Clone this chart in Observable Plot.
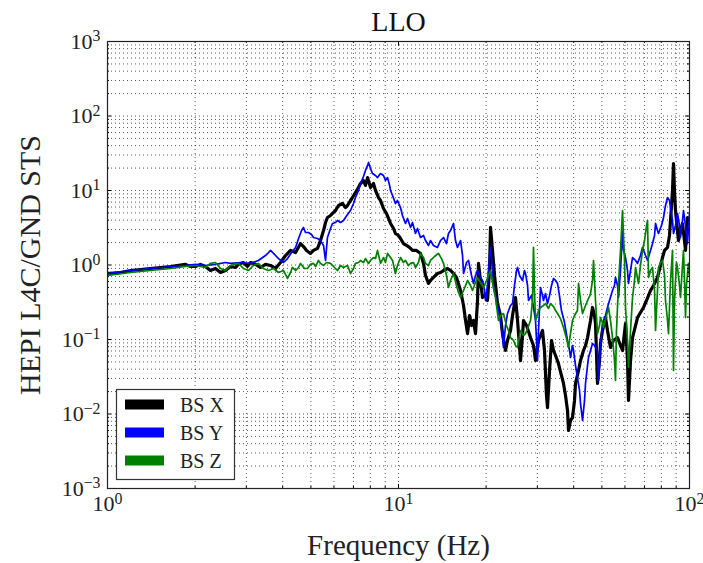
<!DOCTYPE html>
<html><head><meta charset="utf-8">
<script src="https://cdn.jsdelivr.net/npm/d3@7"></script>
<script src="https://cdn.jsdelivr.net/npm/@observablehq/plot@0.6"></script>
<style>body{margin:0;background:#fff;} #chart svg, #chart svg text{font-family:'Liberation Serif',serif !important;}</style>
</head><body><div id="chart"></div>
<script>
// ---- data (frequency in Hz, ratio) ----
const freqX = [1.00,1.108,1.20,1.30,1.405,1.52,1.646,1.854,1.929,2.006,2.087,2.17,2.258,2.35,2.445,2.544,2.647,2.754,2.818,2.932,3.026,3.10,3.225,3.356,3.49,3.633,3.78,3.93,4.09,4.255,4.43,4.606,4.716,4.829,4.984,5.104,5.27,5.395,5.525,5.613,5.70,5.84,5.98,6.075,6.22,6.42,6.574,6.68,6.84,6.95,7.115,7.29,7.40,7.58,7.70,7.83,8.01,8.205,8.336,8.54,8.675,8.88,9.093,9.39,9.615,9.76,9.994,10.16,10.40,10.65,10.91,11.17,11.53,11.90,12.19,12.38,12.68,12.88,13.19,13.61,13.94,14.28,14.74,15.09,15.45,15.82,16.34,16.73,17.0,17.27,17.55,17.82,18.1,18.39,18.69,18.83,19.13,19.44,19.91,20.22,20.55,20.71,21.04,21.38,21.89,22.41,22.77,23.13,23.32,23.69,24.26,24.65,25.24,25.65,26.26,26.68,26.89,27.54,28.42,29.1,29.57,30.27,31.25,31.75,32.25,32.51,33.04,33.56,34.1,34.65,35.45,36.3,36.9,37.49,38.09,38.39,39.0,39.63,40.26,40.58,41.56,42.22,43.23,43.92,44.63,45.7,46.42,47.16,47.53,48.29,49.06,49.45,50.23,51.44,52.26,53.52,54.81,56.57,57.93,58.86,60.28,61.23,61.72,62.71,63.71,65.24,66.29,67.85,69.51,71.19,73.45,75.22,77.62,79.49,80.77,82.07,84.03,85.36,86.05,87.43,88.1,88.8,89.5,90.94,91.66,93.13,94.6,96.1,96.9,97.6,98.4,100];
const valX = [0.769,0.793,0.844,0.871,0.898,0.926,0.955,1.02,0.955,0.955,1.02,0.955,0.844,0.898,0.793,0.844,0.955,0.926,1.02,1.08,0.955,1.08,1.02,0.926,1.02,0.985,0.898,1.08,1.34,1.57,1.47,1.94,1.77,1.57,1.43,1.57,1.67,2.13,2.90,3.72,4.34,4.62,5.07,5.39,6.29,6.69,5.91,6.29,7.34,8.05,9.40,11.0,12.4,13.6,11.7,14.9,11.0,12.4,10.0,8.05,7.34,5.73,4.91,3.61,3.09,2.65,2.49,2.27,1.94,1.83,1.72,1.57,1.57,1.43,1.05,0.723,0.565,0.620,0.680,0.769,0.793,0.844,0.898,0.844,0.769,0.680,0.455,0.286,0.180,0.120,0.210,0.154,0.180,0.120,0.334,1.05,0.620,0.366,0.390,0.334,0.844,3.19,1.57,0.723,0.304,0.210,0.120,0.0831,0.0712,0.0970,0.132,0.210,0.366,0.180,0.0522,0.113,0.180,0.154,0.106,0.0831,0.0522,0.0970,0.132,0.0712,0.0177,0.0122,0.0384,0.0970,0.0712,0.0610,0.0476,0.0329,0.0257,0.0177,0.0111,0.00601,0.00818,0.00897,0.0152,0.0257,0.0384,0.0522,0.0712,0.0831,0.106,0.180,0.269,0.210,0.164,0.0257,0.0522,0.0884,0.132,0.197,0.132,0.0781,0.0970,0.106,0.0831,0.0712,0.164,0.0522,0.0152,0.0522,0.106,0.154,0.197,0.230,0.269,0.334,0.455,0.531,0.680,0.985,1.26,1.57,1.72,2.49,3.96,10.0,23.0,10.0,5.39,2.90,2.13,2.90,3.61,2.13,1.57,2.49,4.34,3.96];

const freqY = [1.00,1.20,1.405,1.646,1.854,2.006,2.17,2.35,2.544,2.647,2.863,3.10,3.30,3.49,3.575,3.633,3.72,3.78,3.87,4.025,4.155,4.29,4.43,4.535,4.643,4.716,4.79,4.906,5.024,5.104,5.27,5.395,5.525,5.613,5.70,5.84,5.93,6.075,6.17,6.32,6.47,6.68,6.84,7.005,7.115,7.29,7.40,7.58,7.70,7.83,7.89,8.01,8.14,8.336,8.47,8.675,8.88,9.02,9.17,9.32,9.39,9.54,9.76,9.92,10.16,10.32,10.57,10.74,11.0,11.17,11.44,11.62,11.90,12.19,12.38,12.68,12.88,13.19,13.61,13.94,14.28,14.62,14.85,15.09,15.45,15.70,15.95,16.34,16.6,16.73,17.13,17.40,17.82,18.1,18.39,18.69,19.13,19.44,19.75,19.91,20.22,20.55,20.71,21.04,21.21,21.72,22.06,22.41,22.77,22.95,23.32,23.69,24.26,24.65,25.04,25.45,25.65,26.06,26.68,27.1,27.32,27.76,27.98,28.65,29.1,29.57,30.05,30.29,30.76,31.25,31.5,32.0,32.51,33.04,33.56,34.1,34.65,35.2,35.73,36.3,37.2,38.09,38.7,39.0,39.63,39.94,40.58,41.2,41.89,42.22,42.9,43.58,43.92,44.63,44.98,45.7,46.42,47.16,48.29,48.67,49.45,50.23,51.44,52.26,53.1,54.37,55.24,55.68,56.57,57.02,57.93,58.86,59.33,60.28,61.23,61.72,62.71,63.71,65.24,66.29,67.85,68.96,70.62,71.75,73.45,74.64,75.83,76.43,77.62,78.25,80.12,81.42,82.71,84.03,85.36,86.05,87.43,88.1,89.5,90.94,92.4,93.13,94.6,95.37,96.9,98.4,100];
const valY = [0.769,0.844,0.898,0.955,0.985,1.02,0.985,1.02,1.08,1.05,1.08,1.05,1.15,1.34,1.47,1.57,1.43,1.34,1.22,1.08,1.22,1.47,1.72,2.27,2.90,3.19,2.73,2.73,2.57,2.34,2.27,2.13,1.83,1.15,2.34,3.09,3.61,3.72,3.96,3.72,3.96,4.76,5.39,6.69,8.05,10.0,12.4,15.4,18.6,21.7,23.8,19.7,16.9,15.9,14.9,16.9,15.9,13.6,14.9,11.7,10.0,8.57,6.69,7.34,5.91,4.62,3.61,4.21,3.19,3.72,2.65,3.09,2.34,2.49,2.13,1.83,2.13,1.83,1.72,2.13,2.34,1.94,2.65,2.90,3.61,2.13,1.72,2.13,1.34,0.769,1.08,1.15,0.723,0.565,0.723,0.844,0.680,0.620,0.455,0.334,0.531,1.34,1.72,0.844,0.499,0.334,0.245,0.180,0.113,0.0781,0.154,0.223,0.286,0.304,0.531,0.844,0.926,0.723,0.620,0.844,0.769,0.531,0.334,0.390,0.269,0.180,0.0522,0.132,0.499,0.390,0.334,0.414,0.304,0.390,0.531,0.659,0.620,0.565,0.390,0.245,0.169,0.0970,0.0712,0.0573,0.0831,0.0712,0.0448,0.0309,0.0207,0.0138,0.00818,0.0152,0.0257,0.0448,0.0573,0.0712,0.0884,0.0831,0.0712,0.0282,0.0831,0.164,0.210,0.269,0.334,0.455,0.531,0.680,0.531,0.366,0.844,2.90,1.57,1.26,0.844,0.565,0.844,1.26,1.15,1.05,1.34,1.72,1.34,1.15,1.57,1.94,2.49,3.61,2.90,2.65,3.39,4.34,6.29,8.05,7.34,5.91,3.96,2.65,3.39,4.91,3.39,2.34,3.96,5.39,3.39,1.94,4.91];

const freqZ = [1.00,1.20,1.405,1.646,1.854,2.006,2.17,2.258,2.35,2.445,2.544,2.647,2.818,2.932,3.05,3.17,3.30,3.43,3.575,3.72,3.87,4.025,4.155,4.255,4.32,4.43,4.535,4.606,4.75,4.867,4.984,5.104,5.19,5.31,5.395,5.525,5.656,5.84,5.98,6.17,6.32,6.47,6.68,6.84,7.005,7.115,7.29,7.40,7.58,7.70,7.89,8.01,8.205,8.336,8.47,8.675,8.88,9.02,9.17,9.39,9.54,9.76,9.92,10.16,10.40,10.57,10.82,11.0,11.26,11.44,11.71,11.90,12.19,12.38,12.68,12.88,13.3,13.72,14.05,14.28,14.62,14.85,15.09,15.45,15.82,16.08,16.34,16.73,17.0,17.27,17.68,17.96,18.39,18.69,19.13,19.59,20.07,20.38,20.71,21.04,21.54,22.06,22.41,22.95,23.5,23.88,24.26,24.85,25.24,25.65,26.06,26.26,26.89,27.32,27.76,28.42,28.88,29.1,29.33,29.57,30.29,30.76,31.5,32.0,32.77,33.3,34.1,34.65,35.2,36.02,36.9,37.79,38.39,39.0,39.63,40.26,41.2,41.56,42.22,42.9,43.92,44.63,45.34,45.7,46.42,46.79,47.53,48.29,49.06,49.45,50.23,50.63,51.85,52.67,53.52,54.37,55.24,55.68,56.12,57.02,57.93,58.86,59.8,60.28,61.23,61.72,62.71,63.71,64.73,65.24,66.29,66.81,67.85,68.96,70.06,71.19,71.75,72.32,73.45,74.64,75.83,76.43,77.62,78.25,79.49,80.77,82.07,82.71,84.03,84.69,86.05,87.43,88.1,88.8,90.22,90.94,92.4,93.13,94.6,95.37,96.1,96.9,97.6,99.2,100];
const valZ = [0.723,0.793,0.844,0.898,0.955,0.985,0.926,1.05,1.08,0.898,0.844,0.985,1.05,0.898,0.844,0.985,1.05,0.898,0.844,0.898,0.793,0.844,0.659,0.793,0.926,0.844,0.926,1.05,0.898,0.898,1.02,1.05,0.955,1.15,1.05,0.985,1.08,1.05,0.955,0.844,0.985,0.926,0.985,0.769,0.898,1.05,1.08,1.15,1.08,1.22,1.05,1.15,1.26,1.22,1.57,1.05,1.26,1.08,1.43,1.26,1.15,0.769,0.985,1.26,1.08,1.15,0.985,1.05,1.08,0.926,1.08,1.43,1.26,1.05,0.985,1.15,1.30,1.43,1.22,1.05,0.723,0.499,0.620,0.769,0.531,0.428,0.366,0.455,0.531,0.620,0.531,0.455,0.582,0.680,0.582,0.499,0.620,0.723,0.844,0.582,0.366,0.180,0.210,0.223,0.154,0.132,0.106,0.0970,0.0831,0.0781,0.113,0.132,0.113,0.120,0.140,0.180,0.334,1.72,0.455,0.180,0.245,0.269,0.286,0.304,0.261,0.304,0.277,0.245,0.223,0.191,0.145,0.103,0.0781,0.120,0.180,0.210,0.245,0.565,0.334,0.223,0.286,0.334,0.378,0.414,0.620,1.15,0.334,0.120,0.154,0.197,0.169,0.145,0.210,0.269,0.180,0.106,0.0522,0.0282,0.132,0.565,1.57,5.39,1.15,0.269,0.0970,0.0421,0.132,0.366,0.620,0.926,0.659,0.565,0.985,1.57,2.13,3.39,3.96,0.680,0.844,0.926,0.455,0.132,0.455,0.926,1.08,1.15,0.723,0.334,0.180,0.120,0.620,1.57,0.0384,0.334,1.08,0.926,0.531,0.366,0.985,1.57,0.620,0.197,0.531,1.05,0.723];

const seriesNames = ["BS X", "BS Y", "BS Z"];
const seriesColors = ["#000000", "#0000ff", "#008000"];
const seriesWidths = [3.2, 1.7, 1.7];

const xMajor = [1, 10, 100];
const yMajor = [1e-3, 1e-2, 1e-1, 1, 10, 100, 1000];
const titleText = "LLO";
const xLabel = "Frequency (Hz)";
const yLabel = "HEPI L4C/GND STS";

// ---- build ----
const seriesF = [freqX, freqY, freqZ];
const seriesV = [valX, valY, valZ];
const rows = seriesNames.map((s, i) => seriesF[i].map((f, j) => ({s, f, v: seriesV[i][j]})));

const mult = [2,3,4,5,6,7,8,9];
const xMinor = [1, 10].flatMap(d => mult.map(m => d * m));
const yMinor = [1e-3, 1e-2, 1e-1, 1, 10, 100].flatMap(d => mult.map(m => +(d * m).toPrecision(3)));
const xGrid = xMajor.concat(xMinor);
const yGrid = yMajor.concat(yMinor);

const W = 703, H = 563, mL = 107, mR = 14, mT = 41, mB = 75;
const fw = W - mL - mR, fh = H - mT - mB;
const fmt = d => "10^" + Math.round(Math.log10(d));
const grid = {stroke: "#000", strokeOpacity: 0.65, strokeDasharray: "1,3", strokeWidth: 1};
const FONT = "'Liberation Serif',serif";

const svg = Plot.plot({
  width: W, height: H,
  marginLeft: mL, marginRight: mR, marginTop: mT, marginBottom: mB,
  style: {fontSize: "22px", color: "#222", background: "#fff"},
  x: {type: "log", domain: [1, 100]},
  y: {type: "log", domain: [1e-3, 1e3]},
  marks: [
    Plot.ruleX(xGrid, {x: d => d, ...grid}),
    Plot.ruleY(yGrid, {y: d => d, ...grid}),
    ...rows.map((r, i) => Plot.line(r, {x: "f", y: "v", stroke: seriesColors[i], strokeWidth: seriesWidths[i], clip: true, strokeLinejoin: "round"})),
    Plot.tickX(xMajor, {x: d => d, insetTop: fh - 4, stroke: "#000"}),
    Plot.tickX(xMajor, {x: d => d, insetBottom: fh - 4, stroke: "#000"}),
    Plot.tickX(xMinor, {x: d => d, insetTop: fh - 2, stroke: "#000"}),
    Plot.tickX(xMinor, {x: d => d, insetBottom: fh - 2, stroke: "#000"}),
    Plot.tickY(yMajor, {y: d => d, insetRight: fw - 4, stroke: "#000"}),
    Plot.tickY(yMajor, {y: d => d, insetLeft: fw - 4, stroke: "#000"}),
    Plot.tickY(yMinor, {y: d => d, insetRight: fw - 2, stroke: "#000"}),
    Plot.tickY(yMinor, {y: d => d, insetLeft: fw - 2, stroke: "#000"}),
    Plot.frame({stroke: "#222", strokeWidth: 1.2}),
    Plot.axisX({ticks: xMajor, tickSize: 0, tickPadding: 7, tickFormat: fmt, label: null}),
    Plot.axisY({ticks: yMajor, tickSize: 0, tickPadding: 7, tickFormat: fmt, label: null}),
    Plot.text([titleText], {frameAnchor: "top", dy: -19, textAnchor: "middle", lineAnchor: "middle", fontSize: 28, fill: "#111"}),
    Plot.text([xLabel], {frameAnchor: "bottom", dy: 57, textAnchor: "middle", lineAnchor: "middle", fontSize: 29, fill: "#222"}),
    Plot.text([yLabel], {frameAnchor: "left", dx: -77, rotate: -90, textAnchor: "middle", lineAnchor: "middle", fontSize: 30, fill: "#222"})
  ]
});

// superscript exponents on tick labels
d3.select(svg).selectAll("text").each(function () {
  const t = this.textContent;
  if (/^10\^-?\d+$/.test(t) && this.children.length === 0) {
    const e = t.split("^")[1].replace("-", "\u2212");
    this.textContent = "10";
    d3.select(this).append("tspan").attr("dy", "-0.45em").attr("font-size", "0.72em").text(e);
  }
});

// legend inside the frame (lower-left)
const lg = d3.select(svg).append("g").attr("class", "legend");
lg.append("rect").attr("x", 116.5).attr("y", 389.5).attr("width", 118).attr("height", 90)
  .attr("fill", "#fff").attr("stroke", "#333").attr("stroke-width", 1.2);
seriesNames.forEach((s, i) => {
  const cy = 404.5 + i * 28;
  lg.append("line").attr("x1", 125).attr("x2", 164).attr("y1", cy).attr("y2", cy)
    .attr("stroke", seriesColors[i]).attr("stroke-width", 10);
  lg.append("text").attr("x", 180).attr("y", cy).attr("dy", "0.35em").attr("text-anchor", "start")
    .attr("font-size", 20).attr("fill", "#222").text(s);
});

d3.select(svg).selectAll("text").style("font-family", FONT);
document.getElementById("chart").appendChild(svg);
</script>
</body></html>
